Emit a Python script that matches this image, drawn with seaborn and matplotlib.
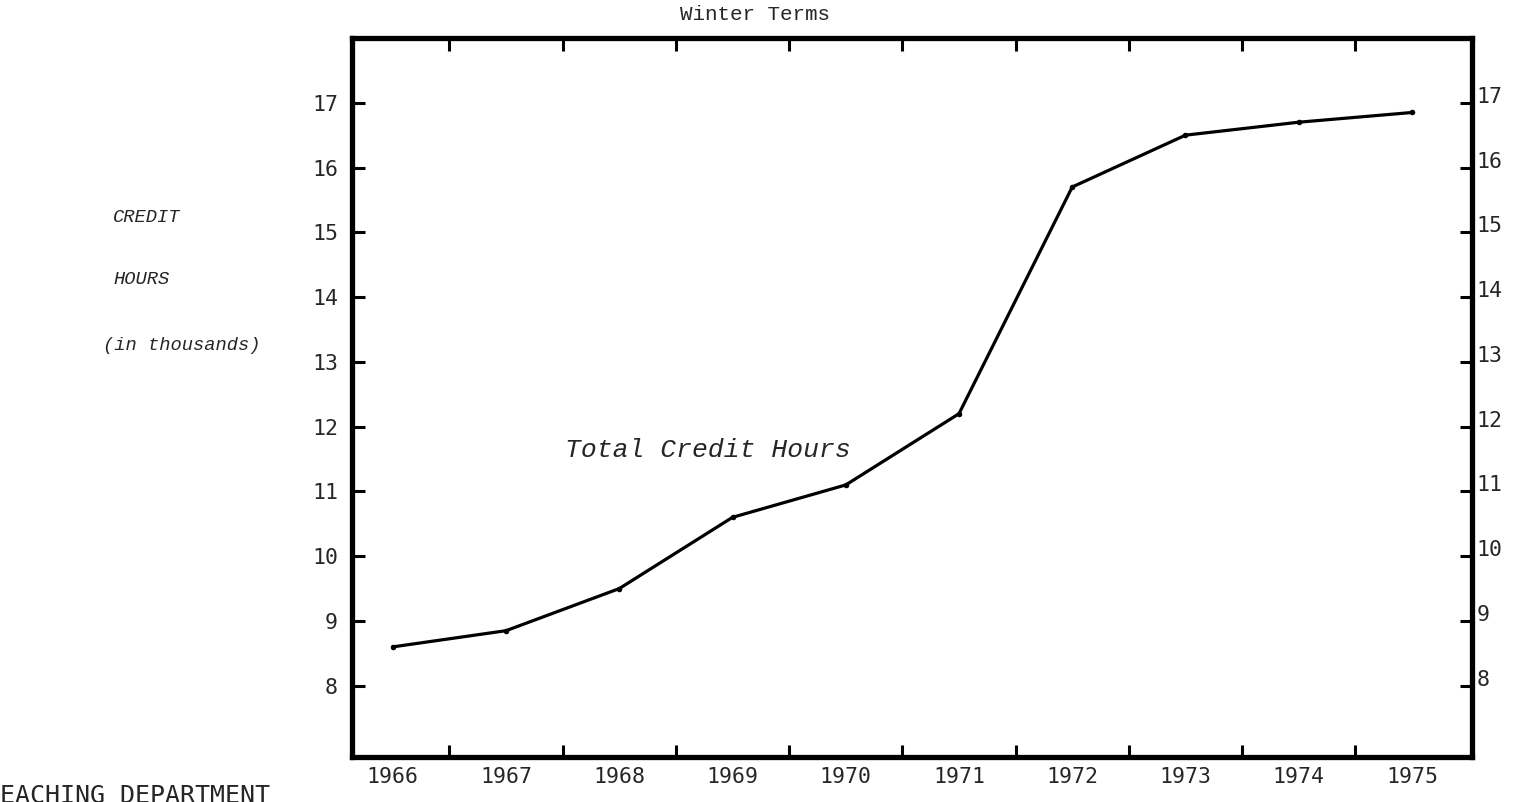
import numpy as np
import pandas as pd
import matplotlib
matplotlib.use("Agg")
import matplotlib.pyplot as plt
import matplotlib.transforms as mtransforms
import seaborn as sns

# Winter term credit hours (thousands)
years = [1966, 1967, 1968, 1969, 1970, 1971, 1972, 1973, 1974, 1975]
credit_hours = [8.6, 8.85, 9.5, 10.6, 11.1, 12.2, 15.7, 16.5, 16.7, 16.85]
y_ticks = [8, 9, 10, 11, 12, 13, 14, 15, 16, 17]

sns.set_theme(style="white")
plt.rcParams["font.family"] = ["DejaVu Sans Mono", "DejaVu Sans"]

W, H = 1533, 802
fig = plt.figure(figsize=(W / 100, H / 100), dpi=100)
ax = fig.add_axes([352 / W, 1 - 757 / H, (1472 - 352) / W, (757 - 38) / H])

df = pd.DataFrame({"year": years, "hours": credit_hours})
sns.lineplot(data=df, x="year", y="hours", ax=ax, color="black", lw=2.3,
             marker="o", markersize=4, markeredgewidth=0)

ax.set_xlim(1965.64, 1975.53)
ax.set_ylim(6.9, 18.0)
ax.set_xlabel("")
ax.set_ylabel("")

# year labels sit under the points, the tick marks fall between them
ax.set_xticks(years)
ax.set_xticklabels([str(y) for y in years])
ax.set_xticks([y + 0.5 for y in years[:-1]], minor=True)
ax.tick_params(axis="x", which="major", length=0, pad=7, labelsize=15.5)
ax.tick_params(axis="x", which="minor", direction="in", length=9, width=2.2,
               top=True, bottom=True, color="black")

ax.set_yticks(y_ticks)
ax.tick_params(axis="y", which="major", direction="in", length=9, width=2.2,
               pad=10, labelsize=15.5, left=True, color="black")

for side in ["left", "right", "top", "bottom"]:
    ax.spines[side].set_visible(True)
    ax.spines[side].set_color("black")
    ax.spines[side].set_linewidth(3.8)

# right-hand scale repeats the left one
ax2 = ax.twinx()
ax2.set_ylim(ax.get_ylim())
ax2.set_yticks(y_ticks)
ax2.tick_params(axis="y", direction="in", length=9, width=2.2, pad=3,
                labelsize=15.5, right=True, color="black")
for side in ["left", "right", "top", "bottom"]:
    ax2.spines[side].set_visible(False)
shift = mtransforms.ScaledTranslation(0, 8 / 100, fig.dpi_scale_trans)
for lab in ax2.get_yticklabels():
    lab.set_transform(lab.get_transform() + shift)

ax.text(1968.78, 11.64, "Total Credit Hours", ha="center", va="center",
        family="Liberation Mono", style="italic", fontsize=19)

fig.text(755 / W, 1 - 15 / H, "Winter Terms", ha="center", va="center",
         family="Liberation Mono", fontsize=15)

side_font = dict(family="Liberation Mono", style="italic", fontsize=13.5,
                 ha="left", va="center")
fig.text(113 / W, 1 - 218 / H, "CREDIT", **side_font)
fig.text(113 / W, 1 - 280 / H, "HOURS", **side_font)
fig.text(103 / W, 1 - 346 / H, "(in thousands)", **side_font)

fig.text(-15 / W, 1 - 784 / H, "TEACHING DEPARTMENT", ha="left", va="top",
         family="DejaVu Sans Mono", fontsize=18)

fig.savefig("out.png", dpi=100)
